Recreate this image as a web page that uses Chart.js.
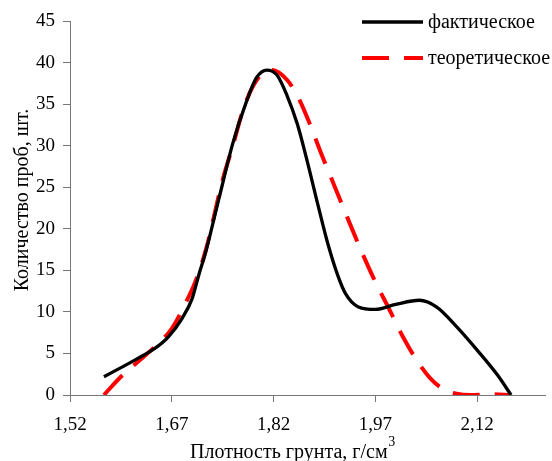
<!DOCTYPE html>
<html>
<head>
<meta charset="utf-8">
<script src="https://cdn.jsdelivr.net/npm/chart.js@4"></script>
<style>
html,body{margin:0;padding:0;background:#fff;}
canvas{display:block;}
</style>
</head>
<body>
<canvas id="c" width="552" height="461"></canvas>
<script>
// Values (density, g/cm3 -> number of samples)
const actualX = [1.57, 1.60, 1.62, 1.645, 1.665, 1.685, 1.70, 1.71, 1.72, 1.74, 1.76, 1.78, 1.795, 1.81, 1.825, 1.84, 1.855, 1.87, 1.885, 1.90, 1.915, 1.926, 1.945, 1.97, 2.00, 2.035, 2.06, 2.09, 2.12, 2.15, 2.17];
const actualY = [2.2, 3.5, 4.4, 5.6, 7.0, 9.2, 11.6, 14.5, 17.2, 23.8, 30.3, 35.3, 38.2, 39.1, 38.5, 36.0, 32.6, 28.0, 23.0, 18.2, 14.3, 12.2, 10.6, 10.3, 10.9, 11.4, 10.6, 8.2, 5.4, 2.4, 0];
const theoX = [1.57, 1.595, 1.62, 1.645, 1.67, 1.69, 1.705, 1.72, 1.745, 1.76, 1.775, 1.79, 1.805, 1.818, 1.84, 1.857, 1.872, 1.89, 1.91, 1.93, 1.95, 1.97, 1.99, 2.01, 2.03, 2.05, 2.07, 2.09, 2.11, 2.14, 2.17];
const theoY = [0, 2.2, 4.0, 5.8, 8.0, 11.0, 13.7, 17.4, 25.9, 30.0, 34.3, 37.2, 38.8, 39.1, 37.9, 35.7, 32.9, 29.1, 25.1, 21.1, 17.2, 13.6, 10.4, 7.1, 4.3, 2.1, 0.7, 0.15, 0, 0.1, 0];
const xTicks = [1.52, 1.67, 1.82, 1.97, 2.12];
const yTickStep = 5;
const seriesNames = ['фактическое', 'теоретическое'];
const xTitle = 'Плотность грунта, г/см';
const xTitleSup = '3';
const yTitle = 'Количество проб, шт.';

const FONT = '"Liberation Serif", "Times New Roman", serif';
const AXIS = '#777777';

const toPoints = (xs, ys) => xs.map((x, i) => ({x: x, y: ys[i]}));

const overlay = {
  id: 'overlay',
  afterDraw(chart) {
    const ctx = chart.ctx;
    ctx.save();
    // Legend
    const items = chart.data.datasets;
    const lx0 = 362, lx1 = 423, ly = [22, 58];
    items.forEach((ds, i) => {
      ctx.beginPath();
      ctx.strokeStyle = ds.borderColor;
      ctx.lineWidth = ds.borderWidth;
      ctx.setLineDash(ds.borderDash || []);
      ctx.moveTo(lx0, ly[i]);
      ctx.lineTo(lx1, ly[i]);
      ctx.stroke();
      ctx.setLineDash([]);
      ctx.fillStyle = '#000';
      ctx.font = '20px ' + FONT;
      ctx.textAlign = 'left';
      ctx.textBaseline = 'middle';
      ctx.fillText(ds.label, 428, ly[i] + 1);
    });
    // X title with superscript
    ctx.fillStyle = '#000';
    ctx.font = '20px ' + FONT;
    const w1 = ctx.measureText(xTitle).width;
    const start = 190;
    ctx.textAlign = 'left';
    ctx.textBaseline = 'alphabetic';
    ctx.fillText(xTitle, start, 458);
    ctx.font = '14px ' + FONT;
    ctx.fillText(xTitleSup, start + w1 + 0.5, 446);
    // Y title
    ctx.translate(23, 200);
    ctx.rotate(-Math.PI / 2);
    ctx.font = '20px ' + FONT;
    ctx.textAlign = 'center';
    ctx.textBaseline = 'middle';
    ctx.fillText(yTitle, 0, 0);
    ctx.restore();
  }
};

new Chart(document.getElementById('c'), {
  type: 'line',
  data: {
    datasets: [
      {
        label: seriesNames[0],
        data: toPoints(actualX, actualY),
        borderColor: '#000000',
        borderWidth: 3.3,
        pointRadius: 0,
        cubicInterpolationMode: 'monotone',
        fill: false
      },
      {
        label: seriesNames[1],
        data: toPoints(theoX, theoY),
        borderColor: '#ff0000',
        borderWidth: 4,
        borderDash: [27, 15],
        pointRadius: 0,
        cubicInterpolationMode: 'monotone',
        fill: false
      }
    ]
  },
  options: {
    responsive: false,
    animation: false,
    events: [],
    layout: {padding: {top: 21, right: 7, left: 0, bottom: 0}},
    plugins: {
      legend: {display: false},
      tooltip: {enabled: false},
      title: {display: false}
    },
    scales: {
      x: {
        type: 'linear',
        min: 1.52,
        max: 2.22,
        afterBuildTicks: (s) => { s.ticks = xTicks.map(v => ({value: v})); },
        afterFit: (s) => { s.height = 66; },
        ticks: {
          autoSkip: false,
          maxRotation: 0,
          padding: 12,
          color: '#000',
          font: {family: FONT, size: 19},
          callback: (v) => Number(v).toFixed(2).replace('.', ',')
        },
        grid: {drawOnChartArea: false, drawTicks: true, tickLength: 7, color: AXIS},
        border: {color: AXIS, width: 1}
      },
      y: {
        min: 0,
        max: 45,
        afterFit: (s) => { s.width = 70; },
        ticks: {
          stepSize: yTickStep,
          padding: 8,
          color: '#000',
          font: {family: FONT, size: 19}
        },
        grid: {drawOnChartArea: false, drawTicks: true, tickLength: 7, color: AXIS},
        border: {color: AXIS, width: 1}
      }
    }
  },
  plugins: [overlay]
});
</script>
</body>
</html>
